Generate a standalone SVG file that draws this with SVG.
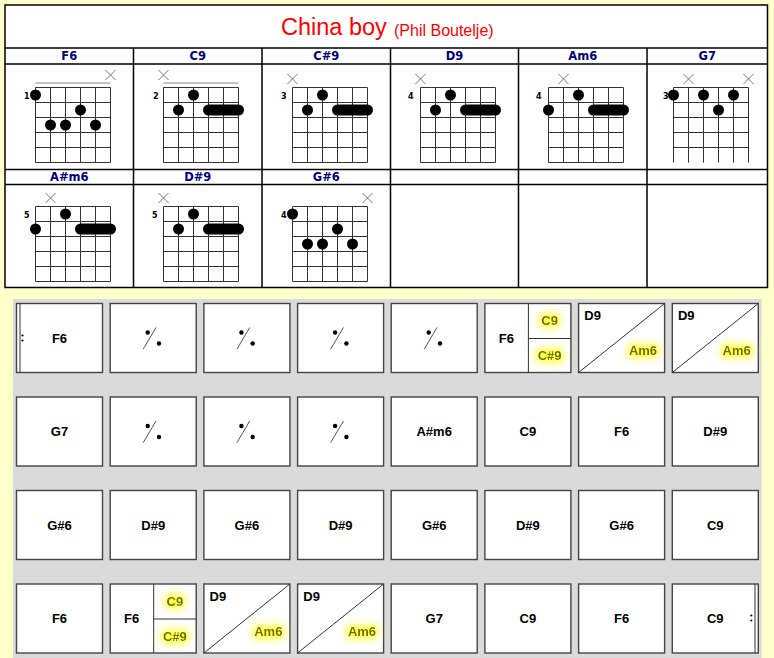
<svg xmlns="http://www.w3.org/2000/svg" width="774" height="658" viewBox="0 0 774 658" xmlns:xlink="http://www.w3.org/1999/xlink">
<style>
.tbl{fill:none;stroke:#000;stroke-width:1.5}
.hdr{font-family:"DejaVu Sans",sans-serif;font-weight:bold;font-size:11.5px;fill:#000080;text-anchor:middle}
.grid{fill:none;stroke:#333;stroke-width:1}
.nut{stroke:#888;stroke-width:1}
.xm{fill:none;stroke:#777;stroke-width:1}
.fn{font-family:"DejaVu Sans",sans-serif;font-weight:bold;font-size:8px;fill:#000;text-anchor:end}
.dot{fill:#000}
.bar{stroke:#000;stroke-width:11;stroke-linecap:round}
.cell{fill:#fff;stroke:#444;stroke-width:1.4}
.div{stroke:#333;stroke-width:1;fill:none}
.ch{font-family:"Liberation Sans",Arial,sans-serif;font-weight:bold;font-size:13px;fill:#000;text-anchor:middle}
.hl{font-family:"Liberation Sans",Arial,sans-serif;font-weight:bold;font-size:13px;fill:#6b6b00;filter:url(#glow)}
</style>
<defs>
<filter id="glow" x="-120%" y="-200%" width="340%" height="500%">
<feMorphology in="SourceAlpha" operator="dilate" radius="2" result="d"/>
<feGaussianBlur in="d" stdDeviation="4" result="b"/>
<feFlood flood-color="#ffff00" flood-opacity="0.9"/>
<feComposite in2="b" operator="in" result="g"/>
<feMerge><feMergeNode in="g"/><feMergeNode in="SourceGraphic"/></feMerge>
</filter>
<path id="grid" class="grid" d="M0,0V75M15,0V75M30,0V75M45,0V75M60,0V75M75,0V75M0,0H75M0,15H75M0,30H75M0,45H75M0,60H75M0,75H75"/>
<path id="gridOpen" class="grid" d="M0,0V75M15,0V75M30,0V75M45,0V75M60,0V75M75,0V75M0,0H75M0,15H75M0,30H75M0,45H75M0,60H75"/>
<path id="xm" class="xm" d="M-5,-5L5,5M5,-5L-5,5"/>
<g id="rep"><path d="M-10,11.2L2.8,-10.5" stroke="#555" stroke-width="1"/><circle cx="-5.5" cy="-5.5" r="2.2" fill="#000"/><circle cx="5.8" cy="5.5" r="2.2" fill="#000"/></g>
</defs>
<rect width="774" height="658" fill="#ffffcc"/>

<g id="chord-table">
<rect x="5" y="5" width="762.5" height="282.5" fill="#fff" stroke="none"/>
<path class="tbl" d="M5,5H767.5V287.5H5Z M5,48H767.5 M5,64H767.5 M5,169.5H767.5 M5,184.5H767.5 M133.5,48V287.5 M262,48V287.5 M390.5,48V287.5 M518.5,48V287.5 M647,48V287.5"/>
<g id="title"><text x="281" y="34.5" font-family="Liberation Sans, Arial, sans-serif" font-size="23.5" fill="#ff0000">China boy</text><text x="394" y="35.5" font-family="Liberation Sans, Arial, sans-serif" font-size="16" fill="#ff0000">(Phil Boutelje)</text></g>
<text class="hdr" x="69.25" y="60.3">F6</text>
<text class="hdr" x="197.75" y="60.3">C9</text>
<text class="hdr" x="326.25" y="60.3">C#9</text>
<text class="hdr" x="454.5" y="60.3">D9</text>
<text class="hdr" x="582.75" y="60.3">Am6</text>
<text class="hdr" x="707.25" y="60.3">G7</text>
<text class="hdr" x="69.25" y="180.6">A#m6</text>
<text class="hdr" x="197.75" y="180.6">D#9</text>
<text class="hdr" x="326.25" y="180.6">G#6</text>
</g>

<g id="chord-F6" transform="translate(35.5,87.5)">
<use href="#grid"/><line class="nut" x1="0" y1="-4.5" x2="75" y2="-4.5"/><use href="#xm" x="75" y="-12.5"/>
<text class="fn" x="-6" y="11">1</text>
<circle class="dot" cx="0" cy="7.5" r="5.5"/><circle class="dot" cx="45" cy="22.5" r="5.5"/><circle class="dot" cx="15" cy="37.5" r="5.5"/><circle class="dot" cx="30" cy="37.5" r="5.5"/><circle class="dot" cx="60" cy="37.5" r="5.5"/>
</g>
<g id="chord-C9" transform="translate(163.5,87.5)">
<use href="#grid"/><line class="nut" x1="0" y1="-4.5" x2="75" y2="-4.5"/><use href="#xm" x="0" y="-12.5"/>
<text class="fn" x="-5" y="11">2</text>
<circle class="dot" cx="30" cy="7.5" r="5.5"/><circle class="dot" cx="15" cy="22.5" r="5.5"/><line class="bar" x1="45" y1="22.5" x2="75" y2="22.5"/>
</g>
<g id="chord-Csharp9" transform="translate(292.5,87.5)">
<use href="#grid"/><use href="#xm" x="0" y="-8.5"/>
<text class="fn" x="-6" y="11">3</text>
<circle class="dot" cx="30" cy="7.5" r="5.5"/><circle class="dot" cx="15" cy="22.5" r="5.5"/><line class="bar" x1="45" y1="22.5" x2="75" y2="22.5"/>
</g>
<g id="chord-D9" transform="translate(420.5,87.5)">
<use href="#grid"/><use href="#xm" x="0" y="-8.5"/>
<text class="fn" x="-7" y="11">4</text>
<circle class="dot" cx="30" cy="7.5" r="5.5"/><circle class="dot" cx="15" cy="22.5" r="5.5"/><line class="bar" x1="45" y1="22.5" x2="75" y2="22.5"/>
</g>
<g id="chord-Am6" transform="translate(548.5,87.5)">
<use href="#grid"/><use href="#xm" x="15" y="-8.5"/>
<text class="fn" x="-7" y="11">4</text>
<circle class="dot" cx="30" cy="7.5" r="5.5"/><circle class="dot" cx="0" cy="22.5" r="5.5"/><line class="bar" x1="45" y1="22.5" x2="75" y2="22.5"/>
</g>
<g id="chord-G7" transform="translate(673.5,87.5)">
<use href="#gridOpen"/><use href="#xm" x="15" y="-8.5"/><use href="#xm" x="75" y="-8.5"/>
<text class="fn" x="-5" y="11">3</text>
<circle class="dot" cx="0" cy="7.5" r="5.5"/><circle class="dot" cx="30" cy="7.5" r="5.5"/><circle class="dot" cx="60" cy="7.5" r="5.5"/><circle class="dot" cx="45" cy="22.5" r="5.5"/>
</g>
<g id="chord-Asharpm6" transform="translate(35.5,206.5)">
<use href="#grid"/><use href="#xm" x="15" y="-8.5"/>
<text class="fn" x="-6" y="11">5</text>
<circle class="dot" cx="30" cy="7.5" r="5.5"/><circle class="dot" cx="0" cy="22.5" r="5.5"/><line class="bar" x1="45" y1="22.5" x2="75" y2="22.5"/>
</g>
<g id="chord-Dsharp9" transform="translate(163.5,206.5)">
<use href="#grid"/><use href="#xm" x="0" y="-8.5"/>
<text class="fn" x="-6" y="11">5</text>
<circle class="dot" cx="30" cy="7.5" r="5.5"/><circle class="dot" cx="15" cy="22.5" r="5.5"/><line class="bar" x1="45" y1="22.5" x2="75" y2="22.5"/>
</g>
<g id="chord-Gsharp6" transform="translate(292.5,206.5)">
<use href="#grid"/><use href="#xm" x="75" y="-8.5"/>
<text class="fn" x="-6" y="11">4</text>
<circle class="dot" cx="0" cy="7.5" r="5.5"/><circle class="dot" cx="45" cy="22.5" r="5.5"/><circle class="dot" cx="15" cy="37.5" r="5.5"/><circle class="dot" cx="30" cy="37.5" r="5.5"/><circle class="dot" cx="60" cy="37.5" r="5.5"/>
</g>

<rect id="grid-panel" x="13" y="299" width="748.5" height="359" fill="#dadada"/>

<!-- Row 1 -->
<g id="bar1"><rect class="cell" x="16.5" y="303.5" width="86" height="69"/><line class="div" x1="20" y1="303.5" x2="20" y2="372.5"/><circle cx="22.5" cy="335.5" r="1.1"/><circle cx="22.5" cy="340.5" r="1.1"/><text class="ch" x="59.5" y="342.5">F6</text></g>
<g id="bar2"><rect class="cell" x="110.2" y="303.5" width="86" height="69"/><use href="#rep" x="153.2" y="338"/></g>
<g id="bar3"><rect class="cell" x="203.9" y="303.5" width="86" height="69"/><use href="#rep" x="246.9" y="338"/></g>
<g id="bar4"><rect class="cell" x="297.6" y="303.5" width="86" height="69"/><use href="#rep" x="340.6" y="338"/></g>
<g id="bar5"><rect class="cell" x="391.2" y="303.5" width="86" height="69"/><use href="#rep" x="434.2" y="338"/></g>
<g id="bar6"><rect class="cell" x="484.9" y="303.5" width="86" height="69"/><path class="div" d="M528.4,303.5V372.5M528.4,338.5H570.9"/><text class="ch" x="506.4" y="342.5">F6</text><text class="hl" x="549.6" y="325.2" text-anchor="middle">C9</text><text class="hl" x="549.6" y="360.2" text-anchor="middle">C#9</text></g>
<g id="bar7"><rect class="cell" x="578.6" y="303.5" width="86" height="69"/><line class="div" x1="578.6" y1="372.5" x2="664.6" y2="303.5"/><text class="ch" x="592.6" y="320" text-anchor="start">D9</text><text class="hl" x="657.1" y="355.2" text-anchor="end">Am6</text></g>
<g id="bar8"><rect class="cell" x="672.3" y="303.5" width="86" height="69"/><line class="div" x1="672.3" y1="372.5" x2="758.3" y2="303.5"/><text class="ch" x="686.3" y="320" text-anchor="start">D9</text><text class="hl" x="750.8" y="355.2" text-anchor="end">Am6</text></g>

<!-- Row 2 -->
<g id="bar9"><rect class="cell" x="16.5" y="397" width="86" height="69"/><text class="ch" x="59.5" y="436">G7</text></g>
<g id="bar10"><rect class="cell" x="110.2" y="397" width="86" height="69"/><use href="#rep" x="153.2" y="431.5"/></g>
<g id="bar11"><rect class="cell" x="203.9" y="397" width="86" height="69"/><use href="#rep" x="246.9" y="431.5"/></g>
<g id="bar12"><rect class="cell" x="297.6" y="397" width="86" height="69"/><use href="#rep" x="340.6" y="431.5"/></g>
<g id="bar13"><rect class="cell" x="391.2" y="397" width="86" height="69"/><text class="ch" x="434.2" y="436">A#m6</text></g>
<g id="bar14"><rect class="cell" x="484.9" y="397" width="86" height="69"/><text class="ch" x="527.9" y="436">C9</text></g>
<g id="bar15"><rect class="cell" x="578.6" y="397" width="86" height="69"/><text class="ch" x="621.6" y="436">F6</text></g>
<g id="bar16"><rect class="cell" x="672.3" y="397" width="86" height="69"/><text class="ch" x="715.3" y="436">D#9</text></g>

<!-- Row 3 -->
<g id="bar17"><rect class="cell" x="16.5" y="490.5" width="86" height="69"/><text class="ch" x="59.5" y="529.5">G#6</text></g>
<g id="bar18"><rect class="cell" x="110.2" y="490.5" width="86" height="69"/><text class="ch" x="153.2" y="529.5">D#9</text></g>
<g id="bar19"><rect class="cell" x="203.9" y="490.5" width="86" height="69"/><text class="ch" x="246.9" y="529.5">G#6</text></g>
<g id="bar20"><rect class="cell" x="297.6" y="490.5" width="86" height="69"/><text class="ch" x="340.6" y="529.5">D#9</text></g>
<g id="bar21"><rect class="cell" x="391.2" y="490.5" width="86" height="69"/><text class="ch" x="434.2" y="529.5">G#6</text></g>
<g id="bar22"><rect class="cell" x="484.9" y="490.5" width="86" height="69"/><text class="ch" x="527.9" y="529.5">D#9</text></g>
<g id="bar23"><rect class="cell" x="578.6" y="490.5" width="86" height="69"/><text class="ch" x="621.6" y="529.5">G#6</text></g>
<g id="bar24"><rect class="cell" x="672.3" y="490.5" width="86" height="69"/><text class="ch" x="715.3" y="529.5">C9</text></g>

<!-- Row 4 -->
<g id="bar25"><rect class="cell" x="16.5" y="584" width="86" height="69"/><text class="ch" x="59.5" y="623">F6</text></g>
<g id="bar26"><rect class="cell" x="110.2" y="584" width="86" height="69"/><path class="div" d="M153.7,584V653M153.7,619H196.2"/><text class="ch" x="131.7" y="623">F6</text><text class="hl" x="174.9" y="605.7" text-anchor="middle">C9</text><text class="hl" x="174.9" y="640.7" text-anchor="middle">C#9</text></g>
<g id="bar27"><rect class="cell" x="203.9" y="584" width="86" height="69"/><line class="div" x1="203.9" y1="653" x2="289.9" y2="584"/><text class="ch" x="217.9" y="600.5" text-anchor="start">D9</text><text class="hl" x="282.4" y="635.7" text-anchor="end">Am6</text></g>
<g id="bar28"><rect class="cell" x="297.6" y="584" width="86" height="69"/><line class="div" x1="297.6" y1="653" x2="383.6" y2="584"/><text class="ch" x="311.6" y="600.5" text-anchor="start">D9</text><text class="hl" x="376.1" y="635.7" text-anchor="end">Am6</text></g>
<g id="bar29"><rect class="cell" x="391.2" y="584" width="86" height="69"/><text class="ch" x="434.2" y="623">G7</text></g>
<g id="bar30"><rect class="cell" x="484.9" y="584" width="86" height="69"/><text class="ch" x="527.9" y="623">C9</text></g>
<g id="bar31"><rect class="cell" x="578.6" y="584" width="86" height="69"/><text class="ch" x="621.6" y="623">F6</text></g>
<g id="bar32"><rect class="cell" x="672.3" y="584" width="86" height="69"/><line class="div" x1="755" y1="584" x2="755" y2="653"/><circle cx="751.3" cy="615.5" r="1.1"/><circle cx="751.3" cy="620.5" r="1.1"/><text class="ch" x="715.3" y="623">C9</text></g>
</svg>
